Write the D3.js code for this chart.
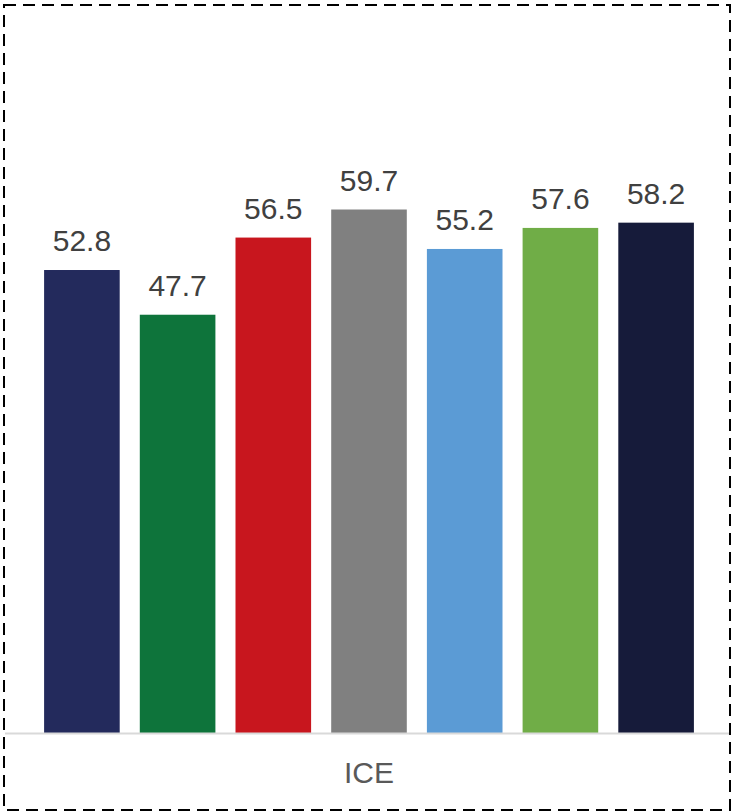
<!DOCTYPE html>
<html>
<head>
<meta charset="utf-8">
<script src="https://cdn.jsdelivr.net/npm/d3@7"></script>
<style>
  html, body { margin: 0; padding: 0; background: #fff; }
  svg { display: block; }
</style>
</head>
<body>
<div id="chart"></div>
<script>
const series = ['s1', 's2', 's3', 's4', 's5', 's6', 's7'];
const values = [52.8, 47.7, 56.5, 59.7, 55.2, 57.6, 58.2];
const colors = ['#232a5c', '#0e743b', '#c8161e', '#808080', '#5b9bd5', '#70ad47', '#161b3a'];
const category = 'ICE';

const width = 733, height = 811;
const baseY = 733;

const svg = d3.select('#chart')
  .append('svg')
  .attr('width', width)
  .attr('height', height);

const x = d3.scaleBand()
  .domain(series)
  .range([24, 714])
  .padding(0.21);

const y = d3.scaleLinear()
  .domain([0, 80])
  .range([baseY, 31.5]);

// bars
svg.selectAll('rect.bar')
  .data(values)
  .join('rect')
  .attr('class', 'bar')
  .attr('x', (d, i) => x(series[i]))
  .attr('y', d => y(d))
  .attr('width', x.bandwidth())
  .attr('height', d => y(0) - y(d))
  .attr('fill', (d, i) => colors[i]);

// value labels
svg.selectAll('text.val')
  .data(values)
  .join('text')
  .attr('class', 'val')
  .attr('x', (d, i) => x(series[i]) + x.bandwidth() / 2)
  .attr('y', d => y(d) - 19)
  .attr('text-anchor', 'middle')
  .attr('font-family', 'Liberation Sans, Arial, sans-serif')
  .attr('font-size', 30)
  .attr('fill', '#404040')
  .text(d => d.toFixed(1));

// category axis line
svg.append('line')
  .attr('x1', 5)
  .attr('x2', 730)
  .attr('y1', baseY + 0.5)
  .attr('y2', baseY + 0.5)
  .attr('stroke', '#d9d9d9')
  .attr('stroke-width', 2);

svg.append('text')
  .attr('x', (x.range()[0] + x.range()[1]) / 2)
  .attr('y', 783)
  .attr('text-anchor', 'middle')
  .attr('font-family', 'Liberation Sans, Arial, sans-serif')
  .attr('font-size', 30)
  .attr('fill', '#595959')
  .text(category);

// dashed outline drawn last
svg.append('rect')
  .attr('x', 4)
  .attr('y', 5)
  .attr('width', 726)
  .attr('height', 805)
  .attr('fill', 'none')
  .attr('stroke', '#000')
  .attr('stroke-width', 2)
  .attr('stroke-dasharray', '12 7');
</script>
</body>
</html>
